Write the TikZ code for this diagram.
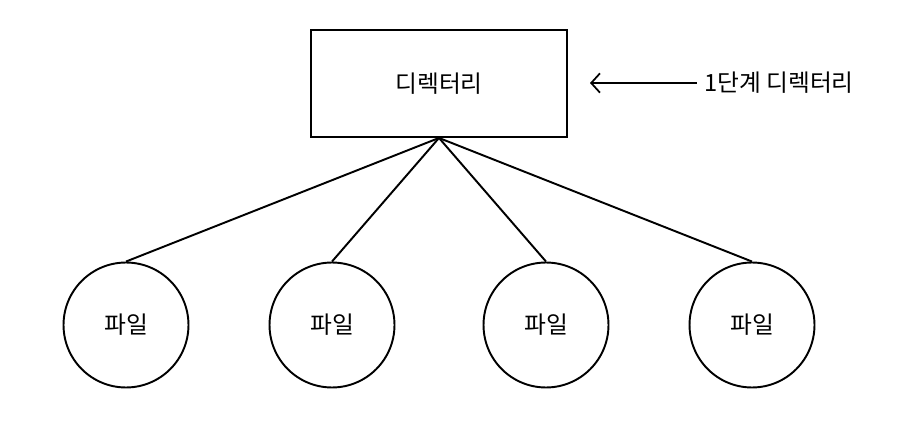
\documentclass[tikz,border=0pt]{standalone}
\usepackage{fontspec}
\usepackage{tikz}
\usetikzlibrary{arrows.meta}
\setmainfont{Noto Sans CJK KR}
\tikzset{
  dirbox/.style={draw,line width=1.1pt,minimum width=5.12cm,minimum height=2.14cm},
  filecircle/.style={draw,circle,line width=1.1pt,minimum size=2.5cm,inner sep=0pt},
}

\begin{document}
\begin{tikzpicture}[x=0.02cm,y=-0.02cm,font=\fontsize{13.5}{16}\selectfont]
\useasboundingbox (0,0) rectangle (902,422);

\node[dirbox] (dir) at (439,83.5) {디렉터리};

\node[filecircle] (f1) at (126,325) {파일};
\node[filecircle] (f2) at (332,325) {파일};
\node[filecircle] (f3) at (546,325) {파일};
\node[filecircle] (f4) at (752,325) {파일};

\node[anchor=west,inner sep=0pt] (lbl) at (704,83) {1단계 디렉터리};
\coordinate (tip) at (590,83);

 \draw[line width=1.1pt] (dir.south) -- (f1.north);
 \draw[line width=1.1pt] (dir.south) -- (f2.north);
 \draw[line width=1.1pt] (dir.south) -- (f3.north);
 \draw[line width=1.1pt] (dir.south) -- (f4.north);

%\draw (dir.east) -- (lbl.west);
 \draw[line width=1pt,-{Straight Barb[length=5pt,width=11pt]}] ([xshift=-4pt]lbl.west) -- (tip);

\end{tikzpicture}
\end{document}
